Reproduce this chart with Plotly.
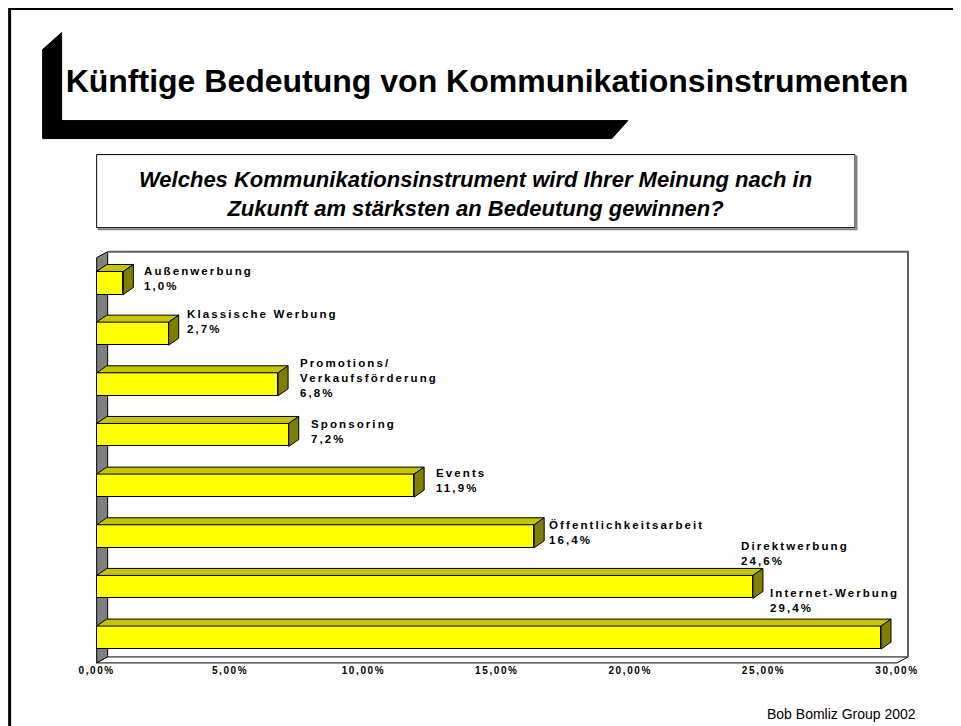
import plotly.graph_objects as go

# ---------------- data ----------------
categories = ["Außenwerbung", "Klassische Werbung", "Promotions/<br>Verkaufsförderung",
              "Sponsoring", "Events", "Öffentlichkeitsarbeit", "Direktwerbung", "Internet-Werbung"]
values = [1.0, 2.7, 6.8, 7.2, 11.9, 16.4, 24.6, 29.4]
x_tickvals = [0, 5, 10, 15, 20, 25, 30]
x_ticklabels = ["0,00%", "5,00%", "10,00%", "15,00%", "20,00%", "25,00%", "30,00%"]

# label placement (pixel shifts from the bar end / bar centre)
label_xshift = [19, 16, 20, 20, 20, 13, -14, -113]
label_yshift = [4, 12, 6, 3, 5, 4, 33, 37]

# ---------------- geometry ----------------
OFF = 8                          # page body margin of the browser
W_FIG, H_FIG = 961 - OFF, 726 - OFF
X_MIN, X_MAX = -0.1, 30.6
Y_BOT, Y_TOP = 7.6, -0.75
KX = 800 / 30.0          # px per percent
KY = 405 / 8.0           # px per category
L = (97 - OFF) - (0 - X_MIN) * KX
PW = (X_MAX - X_MIN) * KX
R = W_FIG - L - PW
T = (258 - OFF) - (-0.5 - Y_TOP) * KY
PH = (Y_BOT - Y_TOP) * KY
B = H_FIG - T - PH

BAR_W = 23 / KY
BDX, BDY = 10 / KX, 7 / KY      # bar depth
WDX, WDY = 11 / KX, 6 / KY      # wall depth

def px(x):
    return (x - OFF - L) / PW

def py(y):
    return 1 - (y - OFF - T) / PH

FONT = "Liberation Sans, Arial, sans-serif"
n = len(values)
idx = list(range(n))

fig = go.Figure()

# front faces
fig.add_trace(go.Bar(x=values, y=idx, orientation="h", width=BAR_W,
                     marker=dict(color="#FFFF00", line=dict(color="#000000", width=1)),
                     hoverinfo="skip", showlegend=False))

# top and side faces
tx, ty, sx, sy = [], [], [], []
h = BAR_W / 2
for i, v in zip(idx, values):
    tx += [0, BDX, v + BDX, v, 0, None]
    ty += [i - h, i - h - BDY, i - h - BDY, i - h, i - h, None]
    sx += [v, v + BDX, v + BDX, v, v, None]
    sy += [i - h, i - h - BDY, i + h - BDY, i + h, i - h, None]
fig.add_trace(go.Scatter(x=tx, y=ty, mode="lines", fill="toself", fillcolor="#C4C400",
                         line=dict(color="#000000", width=1), hoverinfo="skip", showlegend=False))
fig.add_trace(go.Scatter(x=sx, y=sy, mode="lines", fill="toself", fillcolor="#808000",
                         line=dict(color="#000000", width=1), hoverinfo="skip", showlegend=False))

shapes = []
# left wall
y0f, y1f = -0.5, n - 0.5
shapes.append(dict(type="path", xref="x", yref="y", layer="below",
                   path=f"M0,{y0f} L{WDX},{y0f - WDY} L{WDX},{y1f - WDY} L0,{y1f} Z",
                   fillcolor="#808080", line=dict(color="#000000", width=1)))
# floor
shapes.append(dict(type="path", xref="x", yref="y", layer="below",
                   path=f"M0,{y1f} L{WDX},{y1f - WDY} L{30 + WDX},{y1f - WDY} L30,{y1f} Z",
                   fillcolor="#FFFFFF", line=dict(color="#000000", width=1)))
# back wall outline
shapes.append(dict(type="path", xref="x", yref="y", layer="below",
                   path=f"M{WDX},{y0f - WDY} L{30 + WDX},{y0f - WDY} L{30 + WDX},{y1f - WDY}",
                   line=dict(color="#606060", width=2)))

# outer frame
shapes.append(dict(type="rect", xref="paper", yref="paper",
                   x0=px(10), x1=px(1000), y0=py(9), y1=py(800),
                   line=dict(color="#000000", width=3)))
# title bracket
pts = [(43, 50), (62, 33), (62, 121), (628, 121), (612, 139), (43, 139)]
path = "M" + " L".join(f"{px(a)},{py(b)}" for a, b in pts) + " Z"
shapes.append(dict(type="path", xref="paper", yref="paper", path=path,
                   fillcolor="#000000", line=dict(color="#000000", width=1)))
# question box
shapes.append(dict(type="rect", xref="paper", yref="paper",
                   x0=px(97), x1=px(855), y0=py(228), y1=py(155),
                   fillcolor="#FFFFFF", line=dict(color="#000000", width=1), layer="below"))
shapes.append(dict(type="path", xref="paper", yref="paper",
                   path=f"M{px(98)},{py(229.5)} L{px(856.5)},{py(229.5)} L{px(856.5)},{py(156)}",
                   line=dict(color="#808080", width=2)))

annotations = []
LS = "letter-spacing:2.1px"
for i, (c, v) in enumerate(zip(categories, values)):
    vtxt = f"{v:.1f}".replace(".", ",") + "%"
    lines = c.split("<br>") + [vtxt]
    txt = "<br>".join(f'<span style="{LS}">{ln}</span>' for ln in lines)
    annotations.append(dict(x=v, y=i, xref="x", yref="y", text=txt, showarrow=False,
                            xanchor="left", yanchor="middle", align="left",
                            xshift=label_xshift[i], yshift=label_yshift[i],
                            font=dict(family=FONT, size=11.5, color="#000000", weight="bold")))

annotations.append(dict(x=px(476), y=py(194), xref="paper", yref="paper", showarrow=False,
                        text="Welches Kommunikationsinstrument wird Ihrer Meinung nach in<br>"
                             "Zukunft am stärksten an Bedeutung gewinnen?",
                        xanchor="center", yanchor="middle", align="center",
                        font=dict(family=FONT, size=22, color="#000000", weight="bold", style="italic")))
annotations.append(dict(x=px(918), y=py(714), xref="paper", yref="paper", showarrow=False,
                        text="Bob Bomliz Group 2002", xanchor="right", yanchor="middle",
                        font=dict(family=FONT, size=14, color="#000000")))

ticktext = [f'<span style="letter-spacing:1.6px">{t}</span>' for t in x_ticklabels]

fig.update_layout(
    width=W_FIG, height=H_FIG,
    margin=dict(l=L, r=R, t=T, b=B, pad=0),
    paper_bgcolor="#FFFFFF", plot_bgcolor="rgba(0,0,0,0)",
    showlegend=False, bargap=0,
    title=dict(text="Künftige Bedeutung von Kommunikationsinstrumenten",
               xref="container", yref="container", x=(487 - OFF) / W_FIG, y=1 - (81 - OFF) / H_FIG,
               xanchor="center", yanchor="middle",
               font=dict(family=FONT, size=32, color="#000000", weight="bold")),
    xaxis=dict(range=[X_MIN, X_MAX], tickvals=x_tickvals, ticktext=ticktext,
               showgrid=False, zeroline=False, showline=False, ticks="",
               ticklabelstandoff=-5,
               tickfont=dict(family=FONT, size=10, color="#000000", weight="bold"),
               fixedrange=True),
    yaxis=dict(range=[Y_BOT, Y_TOP], showgrid=False, zeroline=False, showline=False,
               showticklabels=False, ticks="", fixedrange=True),
    shapes=shapes, annotations=annotations,
)

fig.write_html("out.html", config=dict(displayModeBar=False))
